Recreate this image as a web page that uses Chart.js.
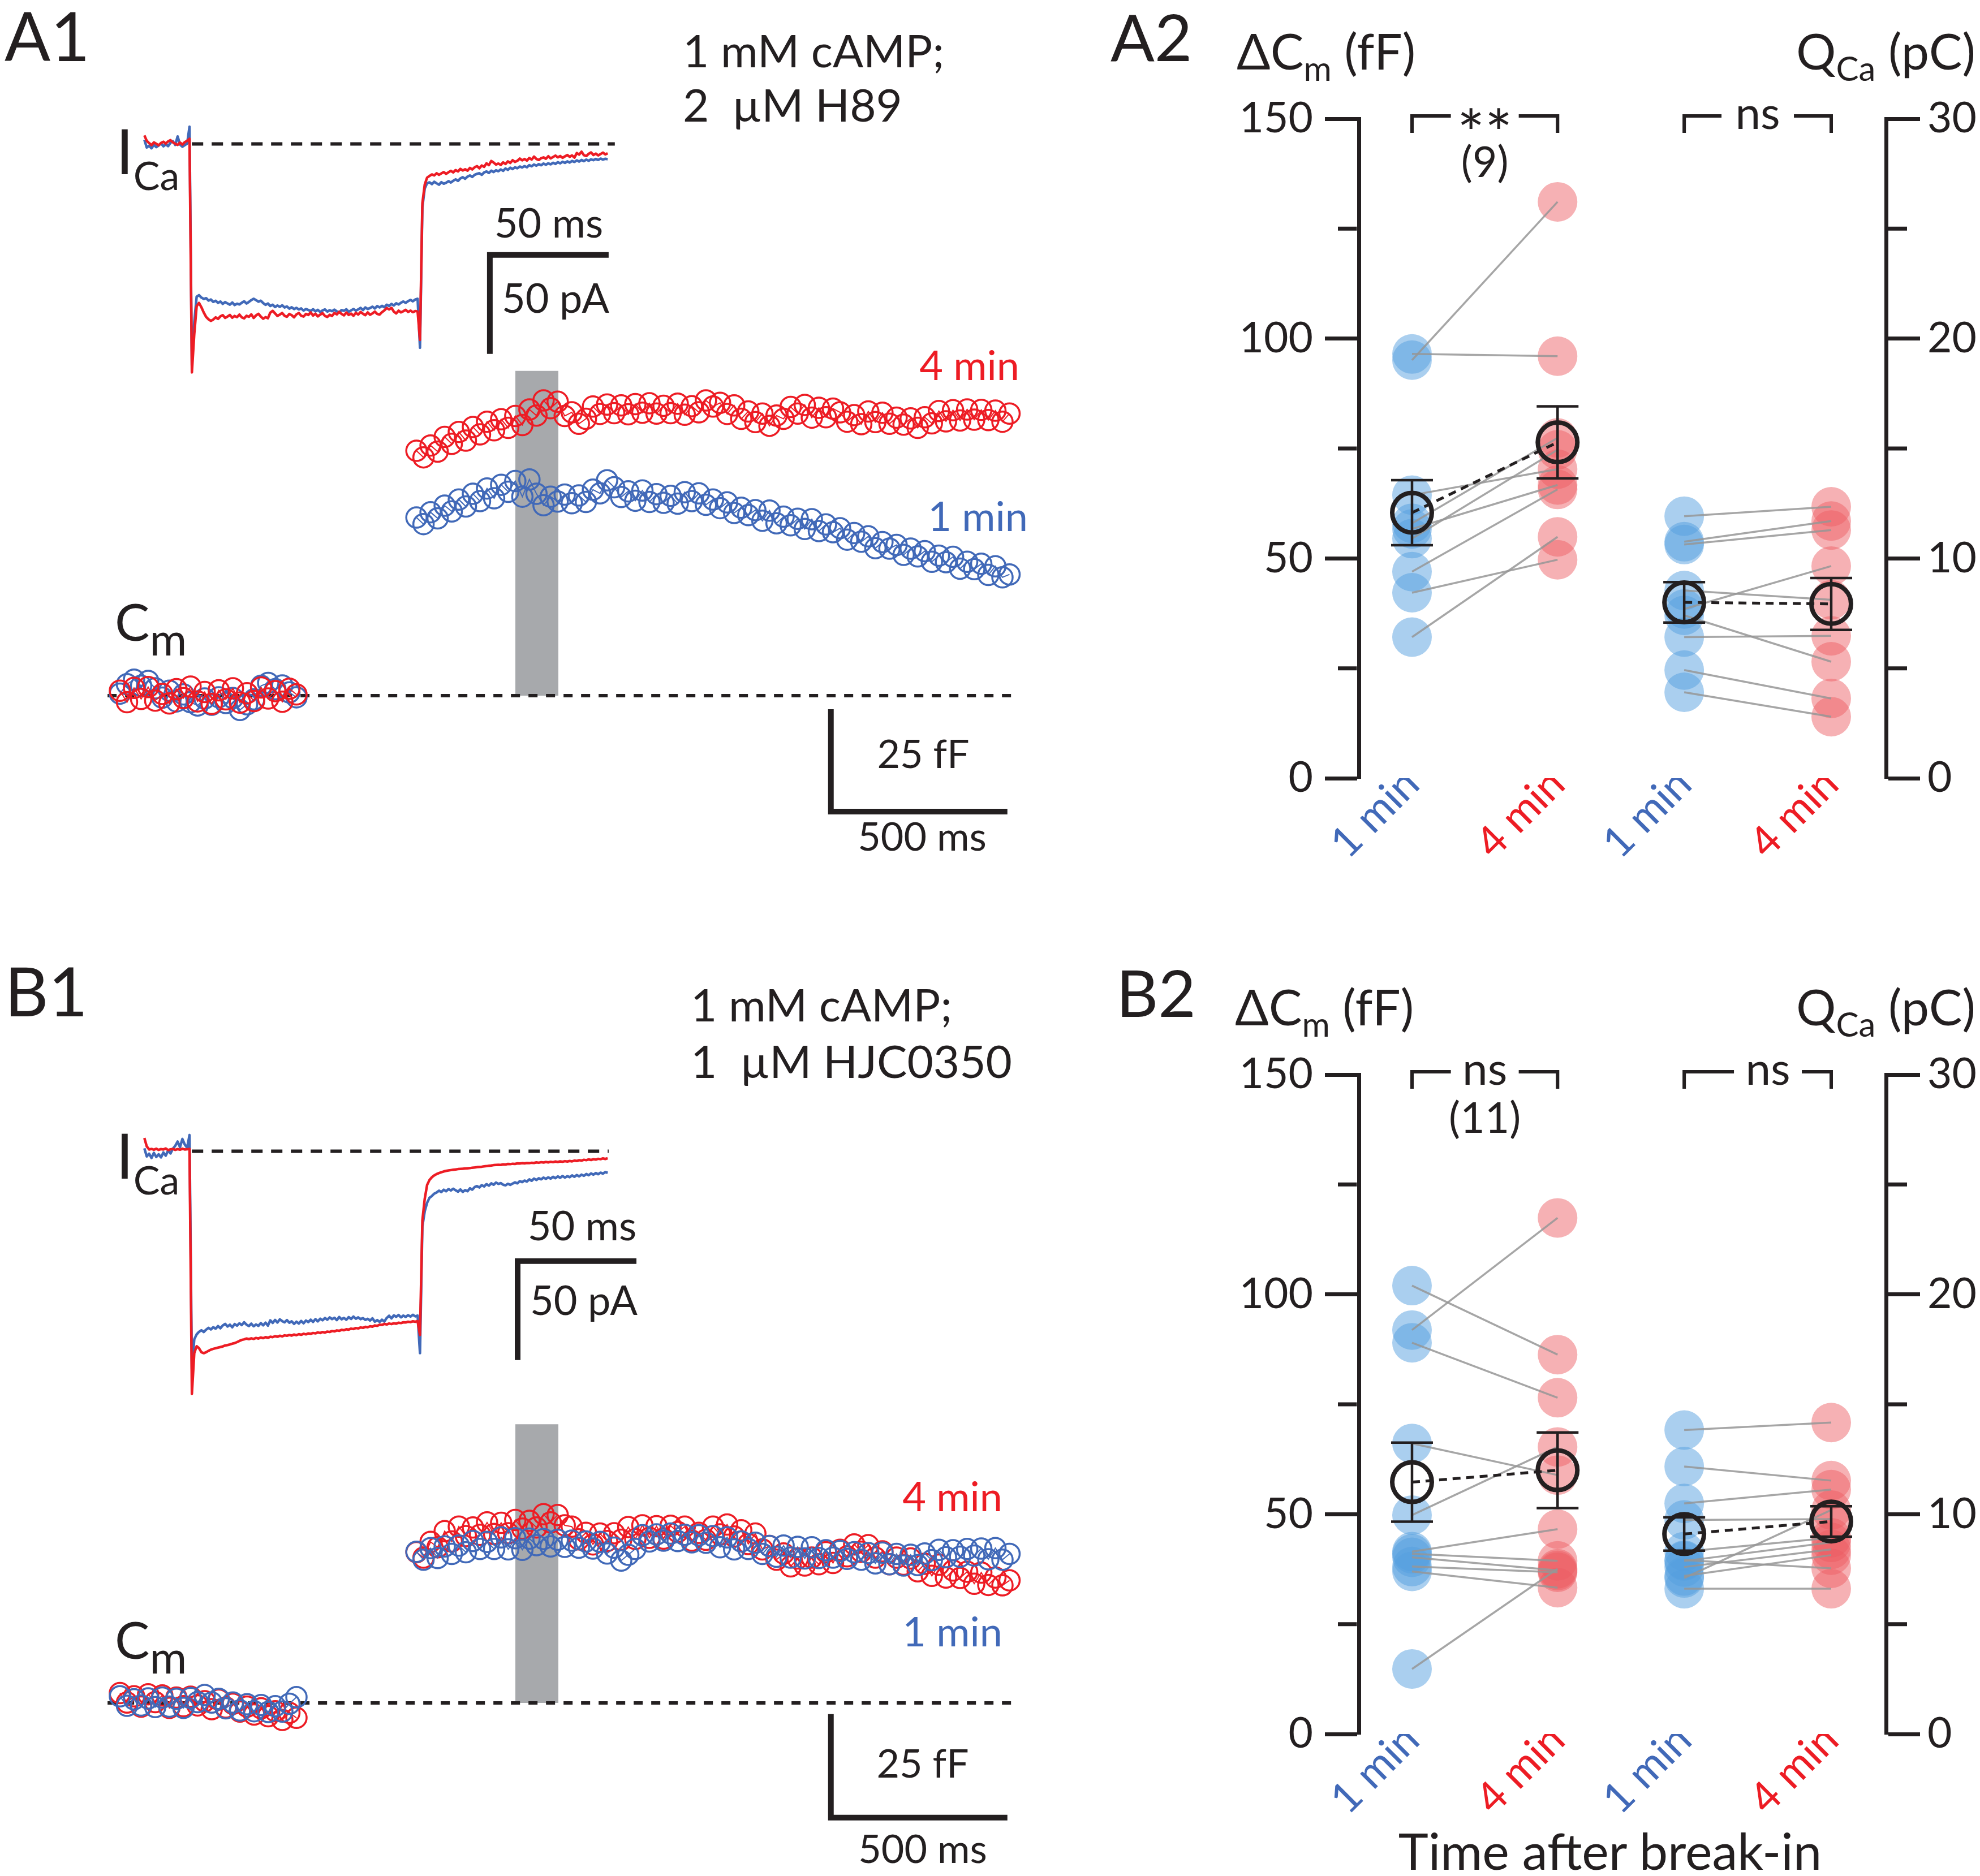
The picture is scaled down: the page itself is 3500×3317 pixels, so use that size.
<!DOCTYPE html>
<html>
<head>
<meta charset="utf-8">
<script src="https://cdn.jsdelivr.net/npm/chart.js@4.4.1/dist/chart.umd.min.js"></script>
<style>
  body { margin: 0; background: #fff; width: 3500px; height: 3317px; position: relative; overflow: hidden; font-family: Lato, sans-serif; }
  canvas { position: absolute; }
  .t { position: absolute; white-space: pre; line-height: 1; color: #231f20; left: 0; top: 0; }
  .t .s { position: relative; }
  .bl { display: inline-block; width: 0; height: 0; vertical-align: baseline; }
</style>
</head>
<body>
<canvas id="icaA" width="1000" height="560" style="left:150px;top:150px"></canvas>
<canvas id="cmA" width="1700" height="960" style="left:150px;top:600px"></canvas>
<canvas id="icaB" width="1050" height="560" style="left:150px;top:1930px"></canvas>
<canvas id="cmB" width="1700" height="937" style="left:150px;top:2380px"></canvas>
<canvas id="sumA" width="1350" height="1430" style="left:2150px;top:120px"></canvas>
<canvas id="sumB" width="1350" height="1430" style="left:2150px;top:1810px"></canvas>
<script>
// ---------- ICa traces (pA), one sample per ms starting at -19 ms ----------
const icaStart = -19;
const icaStep = 1;

const icaRedA = [
  4.3, 1.6, 0.4, -0.6, 0.8, 0.1, -0.7, 0.5, 1.1, 0.2, 1.3, 1.9, 0.8, 0.1, -0.5, 0.7, -0.3, 0.9, 1.6,
  2.6, -115.4, -96, -82, -80.3, -82.5, -85.2, -87.4, -88.6, -89.4, -88.7,
  -87.6, -88.4, -87.1, -86.5, -87.9, -87.2, -86.4, -87.8, -86.9, -87.5,
  -86.2, -87.6, -88.1, -86.8, -87.3, -86.1, -87.9, -86.6, -85.8, -87.2,
  -88.3, -87.5, -88.1, -85.2, -84.3, -85.6, -86.9, -86.2, -85.4, -86.8,
  -87.3, -85.9, -86.5, -87.6, -86.1, -85.4, -86.8, -87.2, -85.9, -86.4,
  -85.1, -86.7, -85.8, -87.1, -86.2, -85.5, -86.9, -87.4, -86.3, -86.9,
  -85.4, -86.1, -84.8, -85.9, -86.6, -85.2, -86.4, -85.7, -86.8, -85.3,
  -86.2, -84.9, -85.8, -86.5, -85.1, -86.3, -85.6, -84.7, -85.9, -86.2,
  -85.0, -84.1, -82.9, -83.6, -82.8, -84.7, -85.6, -84.2, -85.1, -84.5,
  -83.8, -84.9, -84.2, -85.0, -84.4, -84.6,
  -99, -30, -20.5, -17,
  -16.2, -15.4, -15.9, -14.8, -15.6, -14.9, -14.2, -15.1, -14.3, -13.6,
  -14.4, -13.2, -13.9, -12.6, -13.4, -12.8, -13.5, -12.1, -12.9, -11.8,
  -11.2, -12.3, -10.9, -11.6, -9.8, -10.7, -8.6, -9.4, -10.4, -9.9,
  -10.6, -9.3, -10.1, -8.8, -9.6, -8.2, -9.1, -8.5, -7.4, -8.3,
  -7.6, -8.4, -7.1, -7.9, -6.4, -7.6, -8.1, -7.2, -6.8, -7.5,
  -6.2, -7.3, -6.6, -5.9, -6.8, -6.1, -7.0, -6.3, -5.6, -6.5,
  -5.8, -6.9, -4.6, -5.4, -3.9, -5.7, -6.1, -5.0, -4.3, -5.6,
  -4.9, -5.8, -5.1, -4.4, -5.3, -4.7
];
const icaBlueA = [
  2.1, -1.8, -0.9, -2.2, -0.4, -1.6, -0.8, 0.3, -1.2, -0.2, -1.1, 0.6, 1.4, -0.5, 3.8, -0.3, -1.4, -0.6, 0.2,
  8.7, -112, -90, -77.2, -76.4, -77.6, -78.3, -77.9, -79.1, -78.6, -79.8,
  -79.2, -80.3, -79.6, -80.8, -79.9, -80.6, -81.2, -80.1, -81.4, -80.7,
  -81.1, -80.2, -79.5, -80.6, -79.8, -78.9, -78.2, -78.9, -79.7, -79.2,
  -80.4, -81.3, -80.6, -81.9, -81.2, -82.4, -81.6, -82.3, -81.5, -82.6,
  -82.1, -83.2, -82.5, -83.4, -82.8, -83.6, -83.1, -84.2, -83.4, -83.9,
  -84.4, -83.5, -84.6, -83.8, -84.9, -84.1, -83.6, -84.7, -84.0, -84.5,
  -83.7, -84.6, -85.1, -83.9, -84.3, -83.5, -84.8, -84.1, -83.4, -84.2,
  -83.6, -82.8, -83.9, -82.6, -83.4, -82.9, -82.2, -83.1, -81.9, -82.6,
  -81.8, -82.5, -81.2, -81.9, -80.8, -81.6, -80.5, -81.1, -80.2, -79.6,
  -80.3, -79.4, -78.8, -79.5, -78.6, -78.2,
  -103, -32, -22.5, -19.8,
  -19.4, -20.3, -19.1, -19.9, -20.6, -19.3, -20.1, -19.6, -18.8, -19.5,
  -18.6, -17.9, -18.7, -17.4, -16.8, -17.6, -16.5, -15.9, -16.7, -15.6,
  -15.1, -14.8, -15.6, -14.4, -13.9, -14.7, -13.5, -14.2, -13.3, -13.8,
  -12.9, -13.6, -12.4, -13.1, -12.0, -12.7, -11.8, -12.3, -11.4, -11.9,
  -11.2, -11.8, -10.7, -11.3, -10.4, -11.0, -10.2, -10.8, -9.9, -10.5,
  -9.8, -10.3, -9.5, -10.1, -9.2, -9.8, -9.0, -9.6, -8.8, -9.4,
  -8.6, -9.1, -8.3, -8.9, -8.1, -8.7, -7.9, -8.5, -7.8, -8.2,
  -7.6, -8.1, -7.4, -7.9, -7.5, -7.7
];
const icaRedB = [
  6.7, 2.5, 0.9, 1.2, 0.8, 1.3, 0.7, 1.1, 0.9, 1.4, 0.6, 1.0, 1.2, 0.7, 1.1, 0.8, 1.3, 0.9, 1.0,
  1.2, -122.6, -102, -98.5, -99.5, -101.5, -102, -101.5, -100.8, -100.2, -99.8,
  -99.5, -99.2, -98.9, -98.6, -98.1, -97.9, -97.6, -97.2, -96.9, -96.4,
  -95.8, -95.3, -95.0, -94.6, -94.9, -94.5, -94.8, -94.3, -94.6, -94.1,
  -94.4, -93.9, -94.2, -93.7, -93.9, -93.4, -93.7, -93.2, -93.5, -93.0,
  -93.2, -92.8, -93.1, -92.6, -92.9, -92.4, -92.7, -92.2, -92.5, -92.0,
  -92.2, -91.8, -92.0, -91.5, -91.8, -91.3, -91.6, -91.1, -91.3, -90.8,
  -91.0, -90.5, -90.7, -90.2, -90.4, -89.9, -90.1, -89.6, -89.8, -89.3,
  -89.5, -89.0, -89.2, -88.7, -88.9, -88.4, -88.6, -88.0, -88.2, -87.6,
  -87.7, -87.2, -87.5, -87.0, -87.3, -86.9, -87.1, -86.6, -86.8, -86.4,
  -86.5, -86.1, -86.3, -85.9, -86.1, -85.8,
  -92.8, -35, -24, -17,
  -14.5, -13.1, -12.2, -11.5, -11.0, -10.6, -10.2, -9.9, -9.7, -9.5,
  -9.3, -9.2, -9.0, -8.9, -8.8, -8.7, -8.6, -8.5, -8.3, -8.2,
  -8.0, -7.9, -7.8, -7.6, -7.5, -7.3, -7.2, -7.0, -6.9, -6.8,
  -6.9, -6.6, -6.7, -6.4, -6.5, -6.3, -6.4, -6.1, -6.2, -6.0,
  -6.1, -5.9, -6.0, -5.8, -5.9, -5.6, -5.8, -5.5, -5.7, -5.4,
  -5.6, -5.3, -5.5, -5.2, -5.4, -5.1, -5.3, -5.0, -5.2, -4.9,
  -5.1, -4.7, -4.9, -4.5, -4.7, -4.3, -4.5, -4.1, -4.4, -4.0,
  -4.2, -3.8, -4.0, -3.6, -3.9, -3.5
];
const icaBlueB = [
  1.5, -2.6, -1.2, -3.4, -0.8, -2.9, -1.5, -3.1, -0.6, -2.2, 0.4, -1.1, 1.3, 2.8, 4.9, 2.1, 6.2, 3.4, 1.8,
  8.2, -110, -95, -92.5, -91.2, -90.4, -91.3, -90.1, -89.2, -90.0, -88.9,
  -89.6, -88.3, -89.4, -88.0, -87.2, -88.5, -87.6, -88.9, -87.3, -88.1,
  -86.9, -87.8, -86.4, -87.6, -88.3, -87.1, -88.4, -87.5, -88.2, -86.8,
  -87.9, -86.6, -88.1, -85.4, -86.7, -85.2, -86.5, -84.9, -85.8, -86.4,
  -85.3, -86.6, -85.9, -87.2, -86.1, -87.0, -85.7, -86.9, -85.5, -86.3,
  -85.1, -86.2, -84.8, -85.9, -84.6, -85.4, -84.2, -85.1, -83.9, -84.8,
  -84.1, -85.3, -83.7, -84.9, -84.2, -85.1, -83.8, -84.7, -83.5, -84.6,
  -83.9, -84.8, -84.3, -85.2, -84.6, -85.5, -84.4, -86.1, -85.3, -86.2,
  -85.1, -86.0, -84.2, -83.1, -84.4, -82.9, -83.6, -82.7, -83.9, -83.0,
  -83.7, -82.8, -83.5, -82.6, -83.4, -83.0,
  -102, -38, -30.3, -26,
  -23.5, -22.6, -21.4, -20.8, -19.9, -20.6, -19.4, -20.2, -19.1, -19.8,
  -18.9, -19.7, -20.4, -19.3, -20.5, -19.6, -20.2, -18.7, -19.4, -18.1,
  -17.6, -18.3, -17.1, -17.8, -16.6, -17.4, -16.2, -16.9, -15.8, -16.5,
  -16.1, -16.9, -17.2, -16.4, -17.0, -16.3, -15.7, -16.2, -15.1, -15.6,
  -14.8, -15.3, -14.2, -14.9, -13.8, -14.5, -13.6, -14.2, -13.3, -13.9,
  -13.2, -13.8, -12.9, -13.6, -12.7, -13.4, -12.5, -13.3, -12.6, -13.1,
  -12.2, -12.9, -12.0, -12.7, -11.8, -12.4, -11.5, -12.1, -11.2, -11.8,
  -11.0, -11.6, -10.8, -11.3, -10.5, -10.9
];

// ---------- Cm traces (fF), one point every 20 ms ----------
const cmStep = 20;
const cmLeftStart = 0;     // before the pulse
const cmRightStart = 840;  // after the pulse

const cmRedA_left = [1.2, -1.6, 1.9, -0.8, 2.1, -1.2, 0.4, -1.9, 1.6, -0.6, 2.2, -1.4, 0.9, -2.0, 1.3, -0.9, 1.8, -1.7, 0.6, -1.3, 2.0, -0.7, 1.1, -1.5, 1.7, 0.3];
const cmBlueA_left = [0.5, 2.8, 3.9, 2.4, 3.6, 1.8, -0.5, 1.2, -1.4, 0.3, -1.6, -2.4, -0.7, -2.2, -0.4, -1.8, -0.6, -3.5, -2.1, -0.9, 2.4, 3.1, 1.6, 2.5, 0.8, -0.4];
const cmRedA_right = [
  59.8, 58.2, 61.1, 59.6, 63.2, 61.5, 64.4, 62.3, 65.6, 63.8,
  66.9, 64.8, 67.5, 65.4, 68.3, 66.1, 69.9, 68.4, 72.1, 70.2,
  71.8, 68.3, 69.2, 66.4, 67.6, 70.6, 68.8, 71.1, 69.0, 70.9,
  68.7, 71.2, 69.1, 71.4, 68.9, 70.8, 69.0, 71.3, 68.6, 70.7,
  69.2, 72.1, 70.6, 71.5, 68.8, 70.9, 67.6, 69.4, 66.8, 68.9,
  65.9, 68.4, 67.6, 70.5, 68.9, 71.0, 67.9, 70.3, 68.0, 70.1,
  69.2, 66.9, 68.5, 66.3, 69.4, 66.8, 69.1, 66.4, 67.9, 66.2,
  67.7, 65.4, 68.0, 66.5, 69.5, 67.0, 69.7, 67.2, 69.9, 67.4,
  69.8, 67.3, 69.6, 66.9, 68.9
];
const cmBlueA_right = [
  43.5, 41.9, 44.8, 43.3, 46.4, 45.0, 47.9, 46.2, 49.3, 47.5,
  50.6, 48.2, 51.5, 49.8, 52.4, 48.6, 52.8, 49.3, 46.5, 48.6,
  47.4, 49.1, 47.0, 48.9, 47.3, 50.3, 49.4, 52.6, 50.9, 48.5,
  49.9, 47.6, 50.1, 47.3, 49.2, 47.1, 48.8, 46.9, 49.7, 47.5,
  49.4, 46.6, 47.9, 45.8, 47.2, 44.6, 45.9, 44.1, 45.3, 42.7,
  45.2, 42.1, 43.7, 41.6, 43.2, 40.7, 43.1, 40.2, 41.8, 39.9,
  40.9, 38.1, 39.7, 37.6, 38.9, 36.0, 37.5, 35.9, 36.8, 34.4,
  35.9, 34.0, 35.3, 32.7, 34.2, 32.6, 33.9, 31.0, 32.7, 30.9,
  32.2, 29.5, 31.6, 28.9, 29.6
];
const cmRedB_left = [2.4, 0.1, 1.6, -0.9, 2.1, 0.2, 1.8, -1.2, 1.3, -0.8, 1.5, -0.6, 0.4, -1.5, 0.8, -1.1, -0.2, -2.1, -0.9, -2.8, -1.3, -3.2, -2.0, -4.1, -2.4, -3.6];
const cmBlueB_left = [1.6, -0.7, 0.9, -0.6, 1.1, -1.0, 1.3, -0.9, 1.0, -1.2, 1.2, 0.2, 1.9, 0.1, 1.0, -1.3, 0.1, -1.8, -0.3, -2.0, -0.5, -2.2, -0.8, -2.1, -0.2, 1.4];
const cmRedB_right = [
  36.4, 35.1, 38.9, 37.6, 41.5, 39.0, 42.6, 40.3, 42.4, 40.6,
  43.6, 40.8, 43.5, 41.0, 44.2, 42.1, 44.0, 42.4, 45.6, 43.6,
  45.4, 42.9, 42.6, 39.5, 41.1, 38.3, 40.9, 39.1, 41.0, 39.4,
  42.5, 39.6, 42.9, 39.9, 42.7, 39.7, 42.8, 41.3, 42.6, 39.2,
  41.1, 39.4, 42.6, 40.7, 43.1, 40.2, 41.7, 38.4, 40.9, 37.1,
  37.9, 34.6, 36.1, 33.0, 34.9, 33.2, 35.1, 33.5, 36.4, 33.8,
  37.0, 35.4, 38.3, 36.5, 38.1, 35.1, 36.6, 33.5, 35.1, 33.4,
  34.9, 31.8, 33.6, 30.7, 33.4, 30.3, 32.0, 30.2, 31.7, 28.8,
  31.5, 28.5, 30.3, 28.4, 29.6
];
const cmBlueB_right = [
  36.5, 34.6, 37.4, 35.0, 37.8, 36.0, 38.0, 36.4, 39.1, 37.2,
  38.9, 37.2, 40.0, 37.1, 39.8, 37.0, 39.7, 38.1, 39.6, 37.8,
  39.4, 37.7, 39.2, 37.5, 39.0, 37.3, 38.9, 36.1, 37.5, 34.4,
  35.8, 37.2, 40.5, 39.0, 40.7, 39.2, 40.9, 39.1, 40.6, 38.8,
  40.5, 38.7, 40.3, 37.6, 40.0, 37.1, 39.0, 37.2, 38.7, 36.0,
  37.9, 35.3, 38.0, 35.1, 37.7, 34.9, 37.6, 35.0, 36.9, 35.1,
  36.7, 34.8, 36.4, 34.6, 36.2, 33.7, 36.3, 33.5, 36.0, 33.2,
  35.8, 33.3, 36.1, 34.5, 37.0, 35.2, 36.9, 35.3, 37.2, 35.6,
  37.3, 34.7, 37.4, 34.6, 36.0
];

// ---------- summary panels: paired cells ----------
const groupLabels = ['1 min', '4 min', '1 min', '4 min'];

const dCmA_1min = [96.5, 95.1, 64.4, 58.0, 56.7, 54.5, 47.0, 42.2, 32.1];
const dCmA_4min = [96.0, 131.1, 70.3, 77.4, 66.7, 74.7, 65.7, 49.7, 54.9];
const qCaA_1min = [11.92, 10.76, 10.63, 8.54, 7.70, 7.41, 6.42, 4.92, 3.91];
const qCaA_4min = [12.35, 11.70, 11.29, 8.12, 9.65, 5.30, 6.48, 3.63, 2.80];
const dCmA_mean = [60.4, 76.4];
const dCmA_sem = [7.4, 8.2];
const qCaA_mean = [8.0, 7.93];
const qCaA_sem = [0.92, 1.18];

const dCmB_1min = [102.0, 91.9, 89.0, 66.1, 49.8, 41.5, 41.0, 38.1, 37.0, 14.8, 40.2];
const dCmB_4min = [86.3, 117.4, 76.5, 58.9, 65.3, 46.6, 39.4, 36.8, 33.3, 37.6, 37.2];
const qCaB_1min = [13.83, 12.17, 10.49, 9.74, 8.30, 7.91, 7.87, 7.19, 7.10, 6.61, 7.6];
const qCaB_4min = [14.17, 11.53, 11.12, 9.78, 8.93, 7.54, 8.72, 8.14, 10.19, 6.61, 8.4];
const dCmB_mean = [57.3, 60.0];
const dCmB_sem = [9.0, 8.6];
const qCaB_mean = [9.1, 9.67];
const qCaB_sem = [0.76, 0.69];

// ---------- look ----------
const INK = '#231f20';
const RED = '#ed1c24';
const BLUE = '#4169b8';
const DOT_BLUE = 'rgba(86,160,224,0.5)';
const DOT_RED = 'rgba(236,92,98,0.48)';
Chart.defaults.font.family = 'Lato';
Chart.defaults.color = INK;

function hiddenScales(box) {
  // hidden axes; the pixel layout of each trace panel fixes the data range
  return {
    x: { type: 'linear', display: false,
         min: (0 - box.x0) / box.kx, max: (box.w - box.x0) / box.kx },
    y: { type: 'linear', display: false,
         min: -(box.h - box.y0) / box.ky, max: box.y0 / box.ky }
  };
}

function baseOptions(scales) {
  return {
    responsive: false, animation: false, devicePixelRatio: 1,
    layout: { padding: 0, autoPadding: false },
    plugins: { legend: { display: false }, tooltip: { enabled: false } },
    scales: scales
  };
}

// ---------- ICa panels ----------
function icaChart(id, red, blue, box, bar, baseEnd) {
  const toXY = arr => arr.map((v, i) => ({ x: icaStart + i * icaStep, y: v }));
  const trace = (arr, c) => ({ data: toXY(arr), borderColor: c, borderWidth: 4.5, pointRadius: 0,
                               borderJoinStyle: 'round', tension: 0 });
  new Chart(document.getElementById(id), {
    type: 'line',
    data: { datasets: [
      trace(red, RED),
      trace(blue, BLUE),
      { data: [{ x: 1, y: 0 }, { x: baseEnd, y: 0 }], borderColor: INK, borderWidth: 6,
        borderDash: [20, 15], pointRadius: 0 },
      // scale bar: 50 ms / 50 pA
      { data: [{ x: bar.t + 50, y: bar.pA }, { x: bar.t, y: bar.pA }, { x: bar.t, y: bar.pA - 50 }],
        borderColor: INK, borderWidth: 10, borderJoinStyle: 'miter', borderCapStyle: 'butt', pointRadius: 0 }
    ] },
    options: baseOptions(hiddenScales(box))
  });
}

// ---------- Cm panels ----------
function cmChart(id, traces, box, bar, stim) {
  const seg = (arr, t0) => arr.map((v, i) => ({ x: t0 + i * cmStep, y: v }));
  const circles = (arr, t0, c) => ({ data: seg(arr, t0), borderColor: c, borderWidth: 2,
    pointRadius: 18, pointBorderWidth: 3.5, pointBorderColor: c, pointBackgroundColor: 'rgba(0,0,0,0)' });
  const sets = traces.map(tr => circles(tr.values, tr.start, tr.color));
  sets.push(
    { data: [{ x: -35, y: 0 }, { x: 2540, y: 0 }], borderColor: INK, borderWidth: 6,
      borderDash: [16, 15], pointRadius: 0 },
    // scale bar: 25 fF / 500 ms
    { data: [{ x: bar.t, y: bar.fF }, { x: bar.t, y: bar.fF - 25 }, { x: bar.t + 500, y: bar.fF - 25 }],
      borderColor: INK, borderWidth: 10, borderJoinStyle: 'miter', borderCapStyle: 'butt', pointRadius: 0 },
    // depolarisation window
    { data: [{ x: stim.from, y: stim.top }, { x: stim.to, y: stim.top }], borderWidth: 0,
      pointRadius: 0, fill: 'origin', backgroundColor: 'rgb(167,169,172)' }
  );
  new Chart(document.getElementById(id), {
    type: 'line',
    data: { datasets: sets },
    options: baseOptions(hiddenScales(box))
  });
}

icaChart('icaA', icaRedA, icaBlueA,
  { w: 1000, h: 560, x0: 185, kx: 4.2, y0: 104.5, ky: 3.5 }, { t: 126.4, pA: -56.1 }, 179);
icaChart('icaB', icaRedB, icaBlueB,
  { w: 1050, h: 560, x0: 185, kx: 4.2, y0: 105.6, ky: 3.5 }, { t: 138.1, pA: -55.5 }, 176.4);

cmChart('cmA', [
    { values: cmRedA_left, start: cmLeftStart, color: RED },
    { values: cmRedA_right, start: cmRightStart, color: RED },
    { values: cmBlueA_left, start: cmLeftStart, color: BLUE },
    { values: cmBlueA_right, start: cmRightStart, color: BLUE }
  ],
  { w: 1700, h: 960, x0: 62, kx: 0.624, y0: 630, ky: 7.24 },
  { t: 2014, fF: -3.3 }, { from: 1120, to: 1242, top: 79.3 });
cmChart('cmB', [
    { values: cmBlueB_left, start: cmLeftStart, color: BLUE },
    { values: cmBlueB_right, start: cmRightStart, color: BLUE },
    { values: cmRedB_left, start: cmLeftStart, color: RED },
    { values: cmRedB_right, start: cmRightStart, color: RED }
  ],
  { w: 1700, h: 937, x0: 62, kx: 0.624, y0: 631, ky: 7.32 },
  { t: 2014, fF: -2.7 }, { from: 1120, to: 1242, top: 67.3 });

// ---------- summary panels ----------
const xPos = [1, 2, 2.87, 3.88];   // where the four groups sit on the x scale

const axisDecor = {
  id: 'axisDecor',
  afterDraw(chart, args, o) {
    const { ctx, chartArea: ca, scales } = chart;
    ctx.save();
    ctx.strokeStyle = INK;
    ctx.fillStyle = INK;
    ctx.lineWidth = 7;
    // unlabelled ticks are shorter
    o.minorLeft.forEach(v => {
      const py = scales.y.getPixelForValue(v);
      ctx.beginPath(); ctx.moveTo(ca.left - 3.5, py); ctx.lineTo(ca.left - 37, py); ctx.stroke();
    });
    o.minorRight.forEach(v => {
      const py = scales.y2.getPixelForValue(v);
      ctx.beginPath(); ctx.moveTo(ca.right + 3.5, py); ctx.lineTo(ca.right + 37, py); ctx.stroke();
    });
    // significance brackets
    ctx.lineWidth = 6;
    ctx.textAlign = 'center';
    ctx.textBaseline = 'alphabetic';
    o.brackets.forEach(b => {
      const x1 = scales.x.getPixelForValue(b.from);
      const x2 = scales.x.getPixelForValue(b.to);
      const top = scales.y.getPixelForValue(150) - 5;
      const mid = (x1 + x2) / 2 + b.shift;
      ctx.beginPath();
      ctx.moveTo(x1, top + 30); ctx.lineTo(x1, top); ctx.lineTo(mid - b.gap, top);
      ctx.moveTo(mid + b.gap, top); ctx.lineTo(x2, top); ctx.lineTo(x2, top + 30);
      ctx.stroke();
      ctx.font = b.size + 'px Lato';
      ctx.fillText(b.text, mid, top + b.dy);
      if (b.n) {
        ctx.font = '75px Lato';
        ctx.fillText(b.n, (x1 + x2) / 2, top + 108);
      }
    });
    ctx.restore();
  }
};

function summaryChart(id, cm1, cm4, q1, q4, cmMean, cmSem, qMean, qSem, brackets) {
  const dots = (vals, x, axis, c) => ({ data: vals.map(v => ({ x: x, y: v })), yAxisID: axis,
    showLine: false, pointRadius: 35, pointBorderWidth: 0, pointBackgroundColor: c, order: 3 });
  const pairs = (a, b, xa, xb, axis) => a.map((v, i) => ({
    data: [{ x: xa, y: v }, { x: xb, y: b[i] }], yAxisID: axis,
    borderColor: 'rgba(150,150,150,0.85)', borderWidth: 3.5, pointRadius: 0, order: 2 }));
  const errBar = (m, s, x, axis) => ({ data: [{ x: x, y: m - s }, { x: x, y: m + s }], yAxisID: axis,
    borderColor: INK, borderWidth: 4.5, pointStyle: 'line', pointRadius: 37,
    pointBorderWidth: 4.5, pointBorderColor: INK, order: 1 });
  const means = (m, xa, xb, axis) => ({ data: [{ x: xa, y: m[0] }, { x: xb, y: m[1] }], yAxisID: axis,
    borderColor: INK, borderWidth: 5, borderDash: [14, 10], pointRadius: 35, pointBorderWidth: 8,
    pointBorderColor: INK, pointBackgroundColor: 'rgba(0,0,0,0)', order: 0 });

  const sets = [
    means(cmMean, xPos[0], xPos[1], 'y'),
    means(qMean, xPos[2], xPos[3], 'y2'),
    errBar(cmMean[0], cmSem[0], xPos[0], 'y'),
    errBar(cmMean[1], cmSem[1], xPos[1], 'y'),
    errBar(qMean[0], qSem[0], xPos[2], 'y2'),
    errBar(qMean[1], qSem[1], xPos[3], 'y2'),
    ...pairs(cm1, cm4, xPos[0], xPos[1], 'y'),
    ...pairs(q1, q4, xPos[2], xPos[3], 'y2'),
    dots(cm1, xPos[0], 'y', DOT_BLUE),
    dots(cm4, xPos[1], 'y', DOT_RED),
    dots(q1, xPos[2], 'y2', DOT_BLUE),
    dots(q4, xPos[3], 'y2', DOT_RED)
  ].map(d => Object.assign({ clip: false }, d));

  const yAxis = (pos, max, step, width, pad) => ({
    position: pos, min: 0, max: max,
    ticks: { stepSize: step, color: INK, font: { size: 75 }, padding: pad },
    grid: { drawOnChartArea: false, drawTicks: true, tickLength: 60, tickWidth: 7, tickColor: INK },
    border: { display: true, width: 7, color: INK },
    afterFit: s => { s.width = width; }
  });

  new Chart(document.getElementById(id), {
    type: 'line',
    data: { datasets: sets },
    options: {
      responsive: false, animation: false, devicePixelRatio: 1,
      layout: { padding: { top: 90, left: 0, right: 0, bottom: 0 }, autoPadding: false },
      plugins: { legend: { display: false }, tooltip: { enabled: false },
        axisDecor: { minorLeft: [25, 75, 125], minorRight: [5, 15, 25], brackets: brackets } },
      scales: {
        x: {
          type: 'linear', min: 0.6347, max: 4.257,
          afterBuildTicks: s => { s.ticks = xPos.map(v => ({ value: v })); },
          ticks: { autoSkip: false, minRotation: 45, maxRotation: 45, padding: -34,
                   font: { size: 75 }, color: c => (c.index % 2 ? RED : BLUE),
                   callback: (v, i) => groupLabels[i] },
          grid: { display: false, drawTicks: false },
          border: { display: false },
          afterFit: s => { s.height = 174; }
        },
        y: yAxis('left', 150, 50, 252, 21),
        y2: yAxis('right', 30, 10, 166, 13)
      }
    },
    plugins: [axisDecor]
  });
}

summaryChart('sumA', dCmA_1min, dCmA_4min, qCaA_1min, qCaA_4min, dCmA_mean, dCmA_sem, qCaA_mean, qCaA_sem, [
  { from: xPos[0], to: xPos[1], text: '**', size: 115, dy: 72, gap: 60, shift: 0, n: '(9)' },
  { from: xPos[2], to: xPos[3], text: 'ns', size: 80, dy: 23, gap: 64, shift: 0 }
]);
summaryChart('sumB', dCmB_1min, dCmB_4min, qCaB_1min, qCaB_4min, dCmB_mean, dCmB_sem, qCaB_mean, qCaB_sem, [
  { from: xPos[0], to: xPos[1], text: 'ns', size: 80, dy: 23, gap: 60, shift: 0, n: '(11)' },
  { from: xPos[2], to: xPos[3], text: 'ns', size: 80, dy: 23, gap: 60, shift: 18 }
]);

// ---------- text labels ----------
function put(html, x, base, size, align, color) {
  const d = document.createElement('div');
  d.className = 't';
  d.style.fontSize = size + 'px';
  if (color) d.style.color = color;
  d.innerHTML = html + '<span class="bl"></span>';
  document.body.appendChild(d);
  const r = d.getBoundingClientRect();
  const off = d.querySelector('.bl').getBoundingClientRect().top - r.top;
  d.style.top = (base - off) + 'px';
  d.style.left = (align === 'center' ? x - r.width / 2 : align === 'right' ? x - r.width : x) + 'px';
}
const sub = (s, size, dy) => `<span class="s" style="font-size:${size}px;top:${dy}px">${s}</span>`;

// A1
put('A1', 8, 108, 120, 'left');
put('1 mM cAMP;', 1207, 119, 80, 'left');
put('2  µM H89', 1207, 215, 80, 'left');
put('I' + sub('Ca', 70, 28), 205, 308, 110, 'left');
put('50 ms', 970, 420, 72, 'center');
put('50 pA', 982, 553, 72, 'center');
put('4 min', 1802, 672, 72, 'right', RED);
put('1 min', 1817, 939, 72, 'right', BLUE);
put('C' + sub('m', 80, 26), 203, 1133, 92, 'left');
put('25 fF', 1632, 1358, 70, 'center');
put('500 ms', 1630, 1504, 70, 'center');
// B1
put('B1', 8, 1797, 120, 'left');
put('1 mM cAMP;', 1221, 1806, 80, 'left');
put('1  µM HJC0350', 1221, 1906, 80, 'left');
put('I' + sub('Ca', 70, 28), 205, 2084, 110, 'left');
put('50 ms', 1029, 2193, 72, 'center');
put('50 pA', 1032, 2325, 72, 'center');
put('4 min', 1772, 2672, 72, 'right', RED);
put('1 min', 1772, 2911, 72, 'right', BLUE);
put('C' + sub('m', 80, 26), 203, 2933, 92, 'left');
put('25 fF', 1631, 3143, 70, 'center');
put('500 ms', 1631, 3294, 70, 'center');
// A2 / B2
put('A2', 1963, 108, 115, 'left');
put('ΔC' + sub('m', 60, 20) + ' (fF)', 2186, 123, 88, 'left');
put('Q' + sub('Ca', 60, 20) + ' (pC)', 3492, 123, 88, 'right');
put('B2', 1973, 1798, 115, 'left');
put('ΔC' + sub('m', 60, 20) + ' (fF)', 2183, 1813, 88, 'left');
put('Q' + sub('Ca', 60, 20) + ' (pC)', 3492, 1813, 88, 'right');
put('Time after break-in', 2846, 3306, 90, 'center');
</script>
</body>
</html>
